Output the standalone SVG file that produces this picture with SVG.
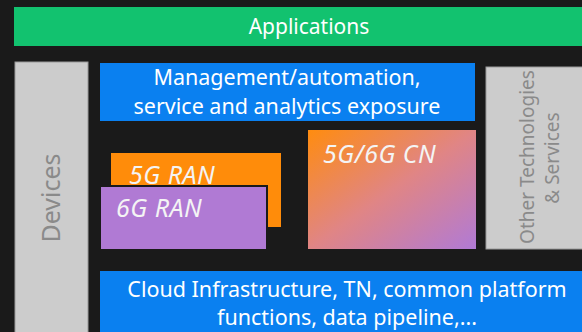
<svg xmlns="http://www.w3.org/2000/svg" width="582" height="332" viewBox="0 0 582 332">
<defs>
<linearGradient id="cn" x1="0" y1="0" x2="1" y2="1">
<stop offset="0" stop-color="#ff8c0f"/>
<stop offset="0.5" stop-color="#e08585"/>
<stop offset="1" stop-color="#b07ad6"/>
</linearGradient>
<style>
.t{font-family:"Noto Sans","Open Sans","Liberation Sans",sans-serif;fill:#ffffff}
.it{font-family:"Noto Sans","Open Sans","Liberation Sans",sans-serif;font-style:italic;fill:#f4f4f4;font-size:25px;letter-spacing:0.5px}
.g{font-family:"Noto Sans","Open Sans","Liberation Sans",sans-serif;fill:#8a8a8a}
.blue{fill:#0a80f0}
.gray{fill:#cccccc;stroke:#999999;stroke-width:1}
</style>
</defs>
<rect width="582" height="332" fill="#1a1a1a"/>
<g id="applications">
<rect x="14" y="7" width="570" height="39" fill="#12c26f"/>
<text class="t" x="309" y="34" font-size="21" text-anchor="middle">Applications</text>
</g>
<g id="devices">
<rect class="gray" x="15" y="62" width="73" height="275"/>
<text class="g" font-size="25" text-anchor="middle" transform="translate(60 198) rotate(-90)">Devices</text>
</g>
<g id="management">
<rect class="blue" x="100" y="63" width="375" height="58"/>
<text class="t" font-size="21.5" text-anchor="middle" x="287" y="85">Management/automation,</text>
<text class="t" font-size="21.5" text-anchor="middle" x="287" y="114">service and analytics exposure</text>
</g>
<g id="other">
<rect class="gray" x="486" y="67" width="100" height="182"/>
<text class="g" font-size="19" text-anchor="middle" transform="translate(534 157) rotate(-90)">Other Technologies</text>
<text class="g" font-size="19" text-anchor="middle" transform="translate(559 158) rotate(-90)">&amp; Services</text>
</g>
<g id="ran5g">
<rect x="111" y="153" width="170" height="74" fill="#ff8c0a"/>
<text class="it" x="129" y="184">5G RAN</text>
</g>
<g id="ran6g">
<rect x="100" y="186" width="167" height="64" fill="#b07ad4" stroke="#1a1a1a" stroke-width="2"/>
<text class="it" x="116" y="217">6G RAN</text>
</g>
<g id="cn">
<rect x="308" y="130" width="168" height="119" fill="url(#cn)"/>
<text class="it" x="323" y="163">5G/6G CN</text>
</g>
<g id="cloud">
<rect class="blue" x="100" y="271" width="486" height="65"/>
<text class="t" font-size="21.5" text-anchor="middle" x="347" y="297">Cloud Infrastructure, TN, common platform</text>
<text class="t" font-size="21.5" text-anchor="middle" x="347" y="325">functions, data pipeline,...</text>
</g>
<g id="connectors"/>
</svg>
